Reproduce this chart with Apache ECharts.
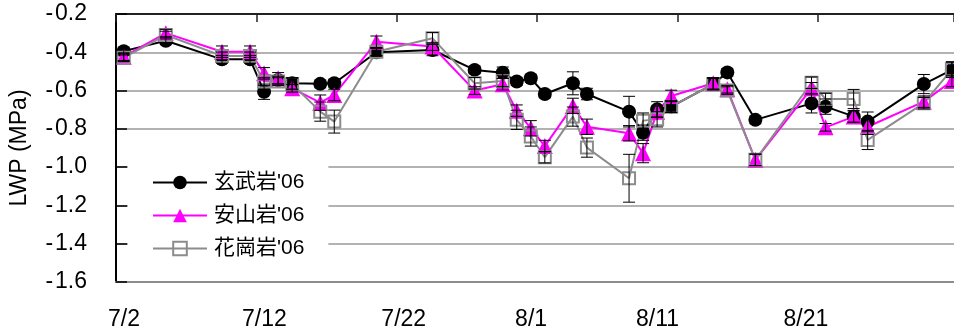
<!DOCTYPE html>
<html>
<head>
<meta charset="utf-8">
<script src="https://cdn.jsdelivr.net/npm/echarts@6/dist/echarts.min.js"></script>
<style>html,body{margin:0;padding:0;background:#fff;}#c{width:954px;height:333px;}</style>
</head>
<body>
<div id="c"></div>
<script>
// measurement dates (2006)
const dates = ['7/2','7/5','7/9','7/11','7/12','7/13','7/14','7/16','7/17','7/20','7/24','7/27','7/29','7/30','7/31','8/1','8/3','8/4','8/7','8/8','8/9','8/10','8/13','8/14','8/16','8/20','8/21','8/23','8/24','8/28','8/30'];
const seriesNames = ["玄武岩'06", "安山岩'06", "花崗岩'06"];
const basalt   = [-0.394,-0.34,-0.437,-0.437,-0.606,-0.545,-0.562,-0.565,-0.562,-0.40,-0.388,-0.492,-0.507,-0.553,-0.536,-0.618,-0.562,-0.618,-0.71,-0.82,-0.698,-0.684,-0.566,-0.505,-0.753,-0.667,-0.684,-0.735,-0.762,-0.566,-0.492];
const andesite = [-0.423,-0.30,-0.397,-0.397,-0.51,-0.536,-0.588,-0.663,-0.623,-0.345,-0.37,-0.60,-0.567,-0.705,-0.797,-0.89,-0.68,-0.789,-0.823,-0.927,-0.71,-0.628,-0.562,-0.593,-0.962,-0.588,-0.792,-0.736,-0.789,-0.658,-0.55];
const granite  = [-0.428,-0.31,-0.419,-0.419,-0.553,-0.553,-0.566,-0.71,-0.762,-0.397,-0.327,-0.562,-0.55,-0.753,-0.84,-0.948,-0.736,-0.898,-1.058,-0.757,-0.75,-0.684,-0.566,-0.60,-0.962,-0.559,-0.644,-0.644,-0.858,-0.666,-0.489];
// error bar half-lengths (±)
const basaltErr   = [0.02,0.02,0.02,0.02,0.04,0.02,0.03,0.02,0.02,0.02,0.03,0.02,0.03,0.02,0.02,0.02,0.06,0.03,0.08,0.04,0.04,0.03,0.03,0.02,0.02,0.05,0.04,0.03,0.05,0.05,0.04];
const andesiteErr = [0.02,0.02,0.03,0.03,0.03,0.03,0.02,0.04,0.03,0.03,0.02,0.02,0.03,0.03,0.04,0.03,0.04,0.04,0.04,0.05,0.03,0.03,0.03,0.02,0.03,0.03,0.02,0.03,0.04,0.03,0.03];
const graniteErr  = [0.02,0.02,0.02,0.02,0.02,0.02,0.03,0.05,0.06,0.02,0.03,0.03,0.03,0.05,0.05,0.03,0.05,0.05,0.125,0.04,0.04,0.03,0.03,0.02,0.03,0.03,0.03,0.05,0.05,0.03,0.04];
const yTicks = [-0.2,-0.4,-0.6,-0.8,-1.0,-1.2,-1.4,-1.6];
const xTickLabels = ['7/2','7/12','7/22','8/1','8/11','8/21'];
const sampleTime = 0.55; // time of day of sampling (fraction of day)

function dayIndex(s){ const [m,d]=s.split('/').map(Number); return m===7 ? d-2 : 29+d; }
const xs = dates.map(s => dayIndex(s) + sampleTime);
function pts(vals){ return vals.map((v,i)=>[xs[i], v]); }
function errPts(vals, errs){ return vals.map((v,i)=>[xs[i], v-errs[i], v+errs[i]]); }

const FONT = "'Liberation Sans', Arial, 'Noto Sans CJK JP', sans-serif";
const AX_FS = 23;
const labelShift = [8, 8, 7, -6, -20, -12];
const rich = {};
labelShift.forEach((s,i)=>{ rich['s'+i] = {fontSize:AX_FS, fontFamily:FONT, color:'#000', padding: s>=0 ? [0,0,0,2*s] : [0,-2*s,0,0]}; });

function errSeries(vals, errs){
  return {
    type:'custom', z:4, silent:true,
    data: errPts(vals, errs),
    renderItem: function(params, api){
      const x = api.value(0);
      const p1 = api.coord([x, api.value(1)]);
      const p2 = api.coord([x, api.value(2)]);
      const w = 6;
      const st = {stroke:'#000', lineWidth:1};
      return {type:'group', children:[
        {type:'line', shape:{x1:p1[0],y1:p1[1],x2:p2[0],y2:p2[1]}, style:st},
        {type:'line', shape:{x1:p1[0]-w,y1:p1[1],x2:p1[0]+w,y2:p1[1]}, style:st},
        {type:'line', shape:{x1:p2[0]-w,y1:p2[1],x2:p2[0]+w,y2:p2[1]}, style:st}
      ]};
    }
  };
}

const chart = echarts.init(document.getElementById('c'));
chart.setOption({
  animation:false,
  grid:{left:115, right:0, top:14, bottom:51},
  legend:{
    orient:'vertical', left:128, top:150,
    padding:[22,24,20,24],
    backgroundColor:'#fff',
    itemWidth:54, itemHeight:17, itemGap:12,
    textStyle:{fontSize:21, fontFamily:FONT, color:'#000', padding:[0,0,0,2]},
    data: seriesNames
  },
  xAxis:[{
    type:'value', position:'bottom', min:0, max:59.7, interval:10,
    axisLine:{show:true, lineStyle:{color:'#8c8c8c', width:2}},
    axisTick:{show:false}, splitLine:{show:false},
    axisLabel:{margin:26, showMaxLabel:false,
      formatter:function(v){ const k=Math.round(v/10); if (Math.abs(v-k*10)>1e-6 || k>5) return ''; return '{s'+k+'|'+xTickLabels[k]+'}'; },
      rich: rich}
  },{
    type:'value', position:'top', min:0, max:59.7, interval:10,
    axisLine:{show:true, lineStyle:{color:'#222', width:2}},
    axisTick:{show:true, inside:true, length:8, lineStyle:{color:'#222', width:1.5}},
    axisLabel:{show:false}, splitLine:{show:false}
  }],
  yAxis:{
    type:'value', min:-1.6, max:-0.2, interval:0.2,
    name:'LWP (MPa)', nameLocation:'middle', nameGap:85, nameRotate:90,
    nameTextStyle:{fontSize:AX_FS, fontFamily:FONT, color:'#000'},
    axisLine:{show:true, lineStyle:{color:'#000', width:2}},
    axisTick:{show:true, inside:true, length:11, lineStyle:{color:'#000', width:1.5}},
    axisLabel:{margin:29, fontSize:AX_FS, fontFamily:FONT, color:'#000',
      formatter:function(v){ return '-\u200A' + Math.abs(v).toFixed(1); }},
    splitLine:{show:true, lineStyle:{color:'#999', width:1.5}}
  },
  series:[
    {name:seriesNames[0], type:'line', z:2, data:pts(basalt), symbol:'circle', symbolSize:14,
      lineStyle:{color:'#000', width:2}, itemStyle:{color:'#000'}},
    {name:seriesNames[1], type:'line', z:2, data:pts(andesite), symbol:'triangle', symbolSize:16,
      lineStyle:{color:'#ff00ff', width:2}, itemStyle:{color:'#ff00ff'}},
    {name:seriesNames[2], type:'line', z:2, data:pts(granite), symbol:'rect', symbolSize:12,
      lineStyle:{color:'#8c8c8c', width:2}, itemStyle:{color:'rgba(255,255,255,0)', borderColor:'#8c8c8c', borderWidth:2}},
    errSeries(basalt, basaltErr),
    errSeries(andesite, andesiteErr),
    errSeries(granite, graniteErr)
  ]
});
</script>
</body>
</html>
